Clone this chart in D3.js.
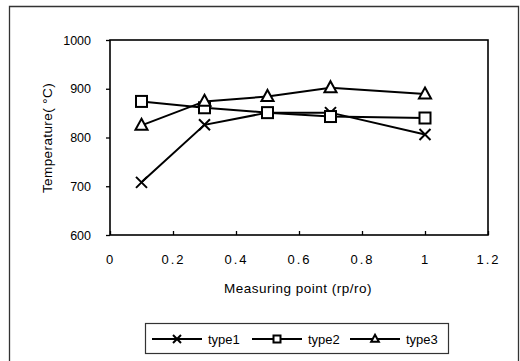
<!DOCTYPE html>
<html><head><meta charset="utf-8">
<script src="https://cdn.jsdelivr.net/npm/d3@7"></script>
<style>body{margin:0;background:#fff}svg{display:block}text{font-family:"Liberation Sans",Arial,sans-serif;fill:#000}</style>
</head><body>
<script>
const xValues = [0.1, 0.3, 0.5, 0.7, 1.0];
const type1 = [708, 826, 851, 851, 806];
const type2 = [874, 861, 851, 843, 840];
const type3 = [825, 874, 884, 902, 889];
const seriesNames = ["type1", "type2", "type3"];
const xTicks = [0, 0.2, 0.4, 0.6, 0.8, 1, 1.2];
const yTicks = [600, 700, 800, 900, 1000];

const W = 520, H = 361;
const svg = d3.select("body").append("svg").attr("width", W).attr("height", H);
const L = 110, R = 488, T = 40, B = 235;
const x = d3.scaleLinear().domain([0, 1.2]).range([L, R]);
const y = d3.scaleLinear().domain([600, 1000]).range([B, T]);

// outer border (top, left, right)
svg.append("path").attr("d", `M9.5,${H}V6.5H518.5V${H}`).attr("fill", "none").attr("stroke", "#333").attr("stroke-width", 1.3);

// plot frame
svg.append("rect").attr("x", L).attr("y", T).attr("width", R - L).attr("height", B - T)
  .attr("fill", "none").attr("stroke", "#000").attr("stroke-width", 1.6);

// x axis
const xa = svg.append("g").attr("transform", `translate(0,${B})`)
  .call(d3.axisBottom(x).tickValues(xTicks).tickFormat(d => d === 0 || d === 1 ? String(d) : d3.format(".1f")(d)).tickSizeInner(-4).tickSizeOuter(0).tickPadding(20));
xa.select(".domain").remove();
xa.selectAll("line").attr("stroke", "#000").attr("stroke-width", 1.3);
xa.selectAll("text").attr("font-size", 13).attr("letter-spacing", "2px").attr("fill", "#000");

// y axis
const ya = svg.append("g").attr("transform", `translate(${L},0)`)
  .call(d3.axisLeft(y).tickValues(yTicks).tickFormat(d3.format("d")).tickSizeInner(4).tickSizeOuter(0).tickPadding(15));
ya.select(".domain").remove();
ya.selectAll("line").attr("stroke", "#000").attr("stroke-width", 1.3);
ya.selectAll("text").attr("font-size", 12.5).attr("fill", "#000");

// titles
svg.append("text").attr("x", 298).attr("y", 293).attr("text-anchor", "middle")
  .attr("font-size", 13.5).attr("letter-spacing", "0.5px").text("Measuring point (rp/ro)");
svg.append("text").attr("transform", `translate(52,138) rotate(-90)`).attr("text-anchor", "middle")
  .attr("font-size", 13.5).attr("letter-spacing", "0.4px").text("Temperature( °C)");

// markers
function marker(g, type, cx, cy, s) {
  if (type === 0) {
    g.append("path").attr("d", `M${cx - s},${cy - s}L${cx + s},${cy + s}M${cx - s},${cy + s}L${cx + s},${cy - s}`)
      .attr("stroke", "#000").attr("stroke-width", 2).attr("fill", "none");
  } else if (type === 1) {
    g.append("rect").attr("x", cx - s).attr("y", cy - s).attr("width", 2 * s).attr("height", 2 * s)
      .attr("fill", "#fff").attr("stroke", "#000").attr("stroke-width", 2);
  } else {
    g.append("path").attr("d", `M${cx},${cy - s * 1.2}L${cx + s * 1.1},${cy + s * 0.8}L${cx - s * 1.1},${cy + s * 0.8}Z`)
      .attr("fill", "#fff").attr("stroke", "#000").attr("stroke-width", 2);
  }
}

const allSeries = [type1, type2, type3];
const line = d3.line().x(d => x(d[0])).y(d => y(d[1]));
allSeries.forEach((vals, i) => {
  const pts = xValues.map((v, k) => [v, vals[k]]);
  svg.append("path").datum(pts).attr("d", line).attr("fill", "none").attr("stroke", "#000").attr("stroke-width", 2);
});
allSeries.forEach((vals, i) => {
  const g = svg.append("g");
  xValues.forEach((v, k) => marker(g, i, x(v), y(vals[k]), 5.5));
});

// legend
svg.append("rect").attr("x", 145.5).attr("y", 323.5).attr("width", 303).attr("height", 30)
  .attr("fill", "#fff").attr("stroke", "#333").attr("stroke-width", 1.2);
const legX = [152, 252, 350];
seriesNames.forEach((n, i) => {
  const g = svg.append("g");
  const x0 = legX[i];
  g.append("line").attr("x1", x0).attr("x2", x0 + 50).attr("y1", 339).attr("y2", 339).attr("stroke", "#000").attr("stroke-width", 2);
  marker(g, i, x0 + 25, 339, i === 0 ? 4 : 3.5);
  g.append("text").attr("x", x0 + 56).attr("y", 344).attr("font-size", 13).text(n);
});
</script>
</body></html>
